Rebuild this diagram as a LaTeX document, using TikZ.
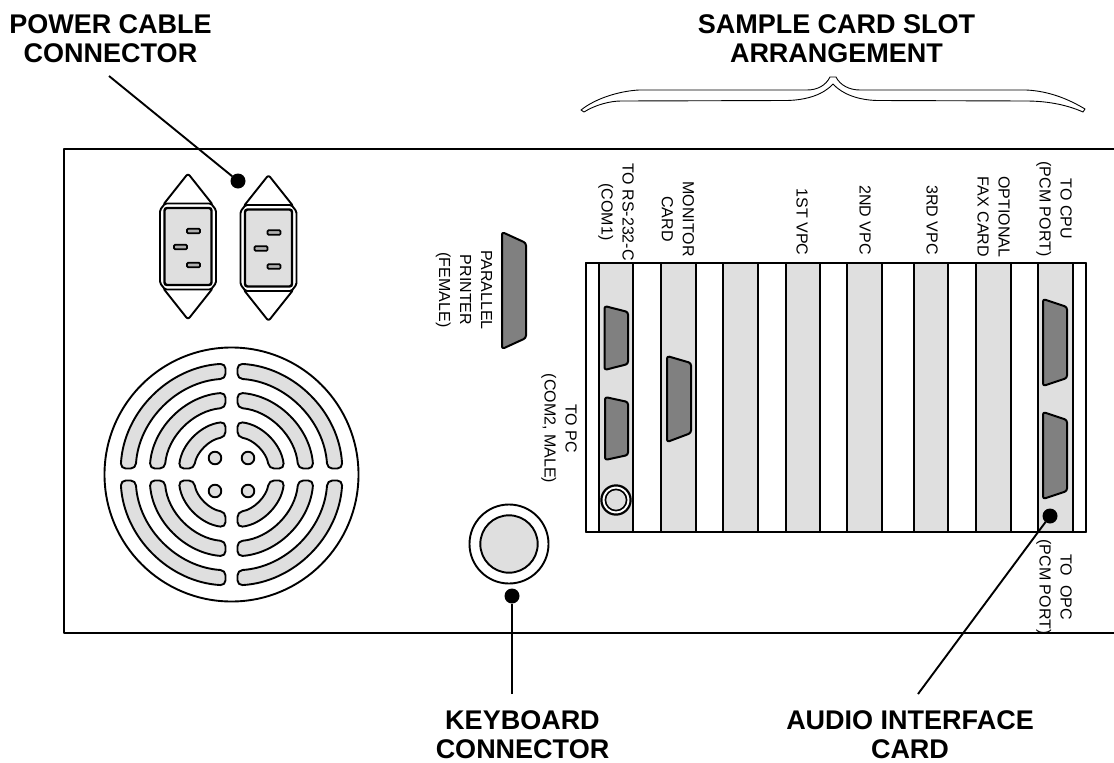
\documentclass[tikz,border=0pt]{standalone}
\usepackage{fontspec}
\setmainfont{Liberation Sans}
\definecolor{lg}{HTML}{DFDFDF}
\definecolor{dg}{HTML}{808080}
\tikzset{
  every node/.style={inner sep=0pt,outer sep=0pt},
  heavy/.style={draw=black,line width=2.4pt,line join=round},
  mid/.style={draw=black,line width=1.9pt,line join=round},
  cardbar/.style={draw=black,line width=1.9pt,fill=lg},
  dsub/.style={draw=black,line width=2pt,fill=dg,rounded corners=2.5pt,line join=round},
  pin/.style={draw=black,line width=1.7pt,fill=dg!50!lg,rounded corners=1pt},
  callout/.style={font=\fontsize{27}{29}\selectfont\bfseries,align=center},
  vlabel/.style={font=\fontsize{16}{21}\selectfont,align=center,rotate=-90},
  leader/.style={draw=black,line width=1.9pt},
  bullet/.style={circle,fill=black,minimum size=15pt},
  brace/.style={draw=black,line width=0.9pt,line join=round}
}
\newcommand{\dshape}[6]{% x1 x2 ytop ybot ytopR ybotR
  \draw[dsub] (#1,#3) -- (#2,#5) -- (#2,#6) -- (#1,#4) -- cycle;}
\newcommand{\powerconn}[2]{%
\begin{scope}[shift={(#1,#2)}]
  \draw[mid,fill=white,rounded corners=2.5pt] (-25,29) -- (0,-2.5) -- (25,29) -- cycle;
  \draw[mid,fill=white,rounded corners=2.5pt] (-25,112) -- (0,143.5) -- (25,112) -- cycle;
  \draw[mid,fill=white,rounded corners=1.5pt] (-23,27.5) -- (23,27.5) -- (28,34) -- (28,107) -- (23,113.5) -- (-23,113.5) -- (-28,107) -- (-28,34) -- cycle;
  \draw[draw=black,line width=2.4pt,fill=lg,rounded corners=2.5pt] (-23.5,32) rectangle (23.5,109);
  \draw[pin] (-1,52.8) rectangle (12,57.2);
  \draw[pin] (-14,68.8) rectangle (-1,73.2);
  \draw[pin] (-1,86.8) rectangle (12,91.2);
\end{scope}}
\begin{document}
\begin{tikzpicture}[x=1pt,y=-1pt]
\useasboundingbox (0,0) rectangle (1114,763);
\fill[white] (0,0) rectangle (1114,763);
% panel
\draw[heavy] (1114,149) -- (64,149) -- (64,633) -- (1114,633);
% power connectors
\powerconn{188}{176}
\powerconn{268.5}{177.5}
% fan
\draw[mid,fill=white] (231.5,474.5) circle (127);
\begin{scope}[shift={(231.5,474.5)},y=1pt]
\foreach \sx/\sy in {1/1,-1/1,1/-1,-1/-1}{
 \begin{scope}[xscale=\sx,yscale=\sy]
 \foreach \ro/\ri in {111/96,82/67,53/38}{
  \pgfmathsetmacro{\ao}{asin(6/\ro)}
  \pgfmathsetmacro{\ai}{asin(6/\ri)}
  \pgfmathsetmacro{\bo}{90-\ao}
  \pgfmathsetmacro{\bi}{90-\ai}
  \draw[mid,fill=lg,rounded corners=5pt] (\ao:\ro) arc[start angle=\ao,end angle=\bo,radius=\ro] -- (\bi:\ri) arc[start angle=\bi,end angle=\ai,radius=\ri] -- cycle;
 }
 \draw[mid,fill=lg] (16.5,16.5) circle (6.3);
 \end{scope}
}
\end{scope}
% printer port
\dshape{502}{526}{232}{349}{243}{338}
% keyboard
\draw[mid,fill=white] (509,544) circle (39.5);
\draw[mid,fill=lg] (509,544) circle (28.7);
% card panel
\draw[heavy,fill=white] (586,263) rectangle (1086,532);
\foreach \a/\b in {599/633,661/696,723/758,786/820,847/882,914/948,976/1011,1038/1073}
  \draw[cardbar] (\a,263) rectangle (\b,532);
\draw[heavy] (586,263) rectangle (1086,532);
% sub-D ports
\dshape{604.5}{628}{306}{370}{312}{364}
\dshape{605}{628}{397}{460}{402}{455}
\dshape{667}{691}{356}{442}{363}{433}
\dshape{1043}{1067}{299}{386}{307}{378}
\dshape{1043}{1067}{412}{499}{420}{491}
% small circular jack
\draw[draw=black,line width=2.2pt,fill=white] (616,500) circle (14.6);
\draw[draw=black,line width=1.6pt,fill=lg] (616,500) circle (10.6);
% brace
\draw[brace,fill=white] (581,110) .. controls (596,98) and (620,91) .. (639,90) -- (807,90)
  .. controls (818,90) and (826,85) .. (830,77) -- (836,77)
  .. controls (840,85) and (849,90) .. (860,90) -- (1026,90)
  .. controls (1050,91) and (1070,100) .. (1085,109)
  -- (1083,112) .. controls (1065,104) and (1045,101) .. (1026,101)
  -- (877,100.5) .. controls (858,100) and (842,94) .. (833,84)
  .. controls (824,94) and (808,100) .. (787,100.5) -- (621,101)
  .. controls (610,101) and (595,105) .. (584,112) -- cycle;
% bullets and leaders
\node[bullet] (dpower) at (238,181) {};
\node[bullet] (dkey) at (512,596) {};
\node[bullet] (daudio) at (1050,516) {};
\coordinate (lpower) at (109,76);
\coordinate (lkey) at (512,694);
\coordinate (laudio) at (918,694);
\draw[leader] (lpower) -- (dpower);
\draw[leader] (lkey) -- (dkey);
\draw[leader] (laudio) -- (daudio);
% callouts
\node[callout] (t1) at (110.5,39) {POWER CABLE\\CONNECTOR};
\node[callout] (t2) at (836.5,39) {SAMPLE CARD SLOT\\ARRANGEMENT};
\node[callout] (t3) at (522.5,735) {KEYBOARD\\CONNECTOR};
\node[callout] (t4) at (910,735) {AUDIO INTERFACE\\CARD};
% rotated labels
\node[vlabel] (v1) at (616,212) {TO RS-232-C\\(COM1)};
\node[vlabel] (v2) at (678,219) {MONITOR\\CARD};
\node[vlabel] (v3) at (802,222) {1ST VPC};
\node[vlabel] (v4) at (865,220) {2ND VPC};
\node[vlabel] (v5) at (932,220) {3RD VPC};
\node[vlabel] (v6) at (993.5,217) {OPTIONAL\\FAX CARD};
\node[vlabel] (v7) at (1054,209) {TO CPU\\(PCM PORT)};
\node[vlabel] (v8) at (1054,587) {TO\ \ OPC\\(PCM PORT)};
\node[vlabel] (v9) at (464,290) {PARALLEL\\PRINTER\\(FEMALE)};
\node[vlabel] (v10) at (559,428.5) {TO PC\\(COM2, MALE)};
\end{tikzpicture}
\end{document}
